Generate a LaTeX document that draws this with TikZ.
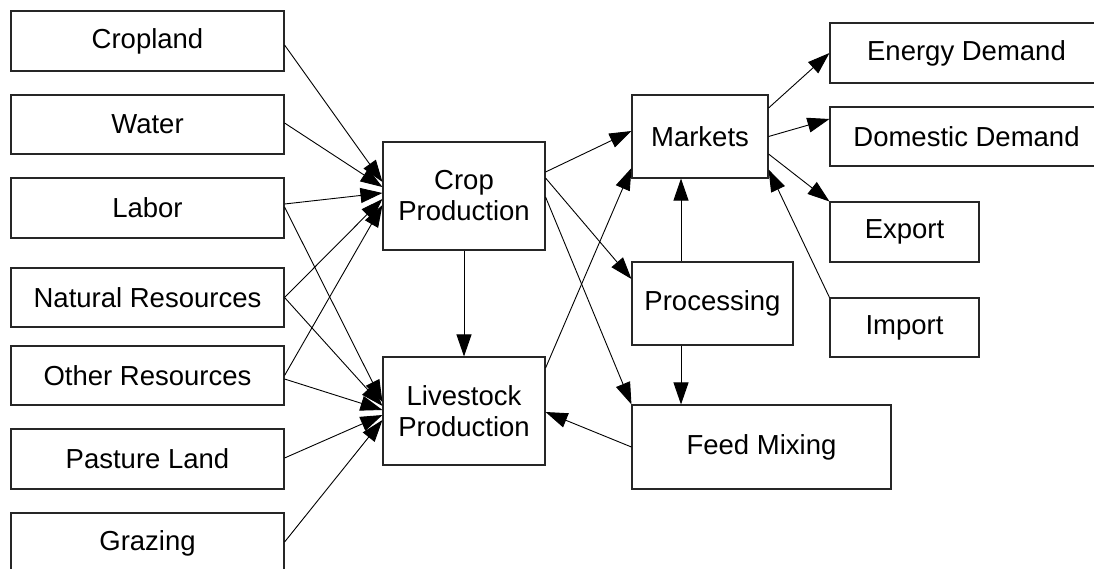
\documentclass[tikz,border=0pt]{standalone}
\usepackage{fontspec}
\setmainfont{Liberation Sans}
\usetikzlibrary{arrows.meta}
\tikzset{
  box/.style={draw=black!85, line width=1.1pt, rectangle, inner sep=0pt, align=center,
    font=\fontsize{27.5}{31}\selectfont, text=black},
  arr/.style={draw=black, line width=0.9pt, -{Triangle[length=22pt,width=15pt]}}
}
\begin{document}
\begin{tikzpicture}[x=1pt,y=-1pt]
\clip (0,0) rectangle (1094,568);
\fill[white] (0,0) rectangle (1094,568);
% left column
\node[box, minimum width=273pt, minimum height=60pt] (cropland) at (147.5,41) {Cropland};
\node[box, minimum width=273pt, minimum height=59pt] (water) at (147.5,124.5) {Water};
\node[box, minimum width=273pt, minimum height=60pt] (labor) at (147.5,208) {Labor};
\node[box, minimum width=273pt, minimum height=59pt] (natres) at (147.5,297.5) {Natural Resources};
\node[box, minimum width=273pt, minimum height=59pt] (othres) at (147.5,375.5) {Other Resources};
\node[box, minimum width=273pt, minimum height=60pt] (pasture) at (147.5,459) {Pasture Land};
\node[box, minimum width=273pt, minimum height=60pt] (grazing) at (147.5,543) {Grazing};
% production
\node[box, minimum width=162pt, minimum height=108pt] (crop) at (464,196) {Crop\\Production};
\node[box, minimum width=162pt, minimum height=108pt] (livestock) at (464,411) {Livestock\\Production};
% middle
\node[box, minimum width=136pt, minimum height=83pt] (markets) at (700,136.5) {Markets};
\node[box, minimum width=161pt, minimum height=83pt] (processing) at (712.5,303.5) {Processing};
\node[box, minimum width=259pt, minimum height=84pt] (feed) at (761.5,447) {Feed Mixing};
% right column
\node[box, minimum width=273pt, minimum height=60pt] (energy) at (966.5,53) {Energy Demand};
\node[box, minimum width=273pt, minimum height=59pt] (domestic) at (966.5,136.5) {Domestic Demand};
\node[box, minimum width=149pt, minimum height=60pt] (export) at (904.5,232) {Export};
\node[box, minimum width=149pt, minimum height=59pt] (import) at (904.5,327.5) {Import};
% inputs to crop production
\draw[arr] ([yshift=-4pt]cropland.east) -- ([yshift=14pt]crop.west);
\draw[arr] ([yshift=1.5pt]water.east) -- ([yshift=9pt]crop.west);
\draw[arr] ([yshift=4pt]labor.east) -- ([yshift=3pt]crop.west);
\draw[arr] (natres.east) -- ([yshift=-3pt]crop.west);
\draw[arr] (othres.east) -- ([yshift=-9pt]crop.west);
% inputs to livestock production
\draw[arr] ([yshift=1pt]labor.east) -- ([yshift=9pt]livestock.west);
\draw[arr] (natres.east) -- ([yshift=5pt]livestock.west);
\draw[arr] ([yshift=-3.5pt]othres.east) -- ([yshift=1pt]livestock.west);
\draw[arr] ([yshift=1pt]pasture.east) -- ([yshift=-4pt]livestock.west);
\draw[arr] ([yshift=1pt]grazing.east) -- ([yshift=-9pt]livestock.west);
% production outputs
\draw[arr] ([yshift=24pt]crop.east) -- ([yshift=5.5pt]markets.west);
\draw[arr] ([yshift=18pt]crop.east) -- ([yshift=24.5pt]processing.west);
\draw[arr] ([yshift=-1pt]crop.east) -- (feed.north west);
\draw[arr] (crop.south) -- (livestock.north);
\draw[arr] ([yshift=43pt]livestock.east) -- ([yshift=-31.5pt]markets.west);
\draw[arr] (feed.west) -- ([yshift=-1pt]livestock.east);
\draw[arr] ([xshift=-31.5pt]processing.north) -- ([xshift=-19pt]markets.south);
\draw[arr] ([xshift=-31.5pt]processing.south) -- ([xshift=-80.5pt]feed.north);
% markets
\draw[arr] ([yshift=28.5pt]markets.east) -- (energy.west);
\draw[arr] (markets.east) -- ([yshift=17.5pt]domestic.west);
\draw[arr] ([yshift=-17.5pt]markets.east) -- (export.north west);
\draw[arr] (import.north west) -- ([yshift=-33pt]markets.east);
\end{tikzpicture}
\end{document}
